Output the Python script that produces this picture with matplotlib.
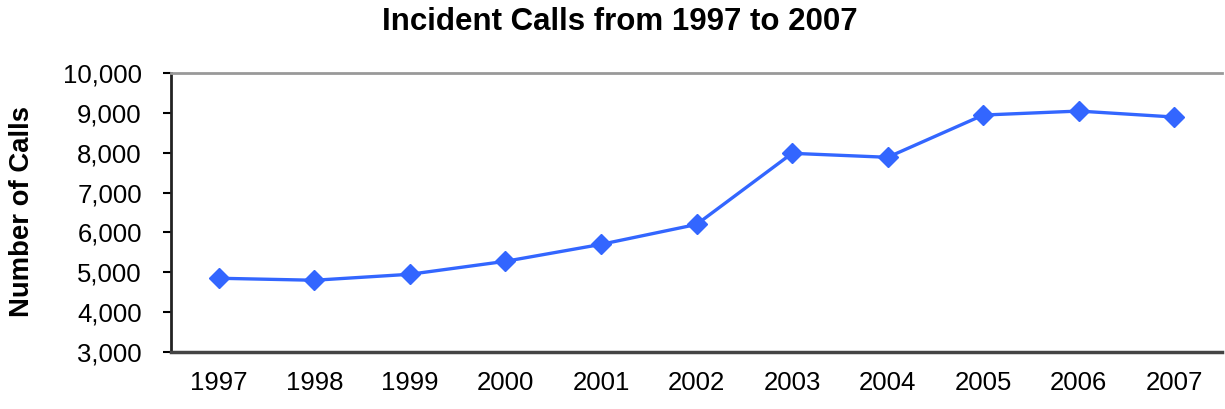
import matplotlib.pyplot as plt
from matplotlib.ticker import FuncFormatter

years = ['1997', '1998', '1999', '2000', '2001', '2002',
         '2003', '2004', '2005', '2006', '2007']
calls = [4850, 4800, 4950, 5275, 5700, 6200, 7985, 7885, 8945, 9045, 8895]

plt.rcParams['font.family'] = ['Liberation Sans', 'DejaVu Sans']

fig = plt.figure(figsize=(12.25, 4.09), dpi=100)
ax = fig.add_axes([0.1396, 0.1394, 0.858, 0.6821])

x = range(len(years))
ax.plot(x, calls, color='#3366FF', lw=2.4, marker='D', ms=10,
        markeredgecolor='#3366FF')

ax.set_xlim(-0.5, len(years) - 0.5)
ax.set_ylim(3000, 10000)
ax.set_yticks(range(3000, 10001, 1000))
ax.yaxis.set_major_formatter(FuncFormatter(lambda v, p: f'{int(v):,}'))
ax.set_xticks(list(x))
ax.set_xticklabels(years)

ax.tick_params(axis='y', length=6, width=1.5, labelsize=18.5, pad=15)
ax.tick_params(axis='x', length=0, labelsize=18.5, pad=14)

ax.spines['right'].set_visible(False)
ax.spines['top'].set_color('#999999')
ax.spines['top'].set_linewidth(2)
ax.spines['left'].set_color('#222222')
ax.spines['left'].set_linewidth(2)
ax.spines['bottom'].set_color('#444444')
ax.spines['bottom'].set_linewidth(2.5)

fig.text(0.506, 0.946, 'Incident Calls from 1997 to 2007', fontsize=22.5,
         fontweight='bold', ha='center', va='center')
fig.text(0.018, 0.484, 'Number of Calls', fontsize=19.8, fontweight='bold',
         rotation=90, ha='center', va='center')

fig.savefig('out.png', dpi=100)
